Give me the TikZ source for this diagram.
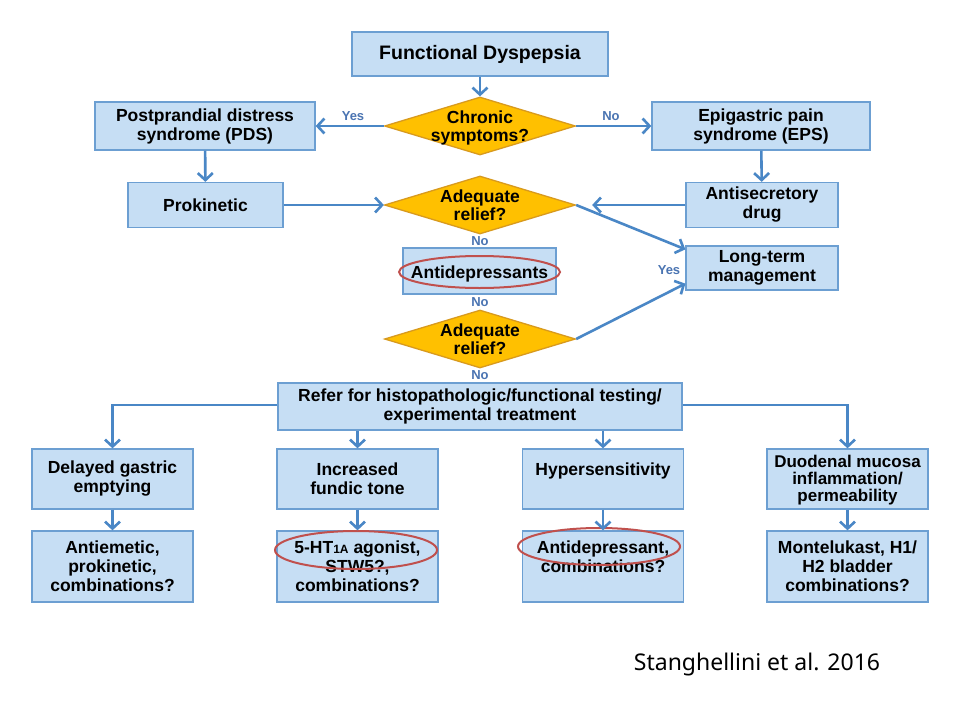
\documentclass[tikz,border=0pt]{standalone}
\usepackage{fontspec}
\setmainfont{Liberation Sans}
\newfontfamily\citefont{Noto Sans}
\usetikzlibrary{arrows.meta,shapes.geometric,calc}
\definecolor{boxfill}{HTML}{C6DEF4}
\definecolor{boxline}{HTML}{6C9FD2}
\definecolor{arrowc}{HTML}{4A87C6}
\definecolor{diafill}{HTML}{FFC000}
\definecolor{dialine}{HTML}{D89A1E}
\definecolor{lblc}{HTML}{4A74B2}
\definecolor{ringc}{HTML}{C0504D}
\newcommand{\ztext}[1]{\makebox[0pt]{\raisebox{-7.4pt}[0pt][0pt]{\begin{tabular}{@{}c@{}}#1\end{tabular}}}}
\begin{document}
\begin{tikzpicture}[x=1pt,y=-1pt,
 box/.style={draw=boxline, fill=boxfill, line width=1.3pt, rectangle, inner sep=0pt, align=center, font=\bfseries\fontsize{17.5}{19}\selectfont},
 dia/.style={draw=dialine, fill=diafill, line width=1.3pt, diamond, aspect=3.29, inner sep=0pt, minimum width=191pt, minimum height=58pt, font=\bfseries\fontsize{17.5}{18}\selectfont},
 arr/.style={draw=arrowc, line width=2.6pt, -{Straight Barb[length=7pt,width=15pt]}},
 lbl/.style={text=lblc, font=\bfseries\fontsize{13}{14}\selectfont, inner sep=0pt},
 ring/.style={draw=ringc, line width=2pt, ellipse, inner sep=0pt},
]
\fill[white] (0,0) rectangle (960,720);
\useasboundingbox (0,0) rectangle (960,720);

% top part
\node[box, minimum width=256pt, minimum height=44pt, font=\bfseries\fontsize{19.5}{21}\selectfont] (fd) at (480,54) {Functional Dyspepsia};
\node[dia] (chr) at (480,126) {\ztext{Chronic\\symptoms?}};
\node[box, minimum width=220pt, minimum height=48pt] (pds) at (205,126) {Postprandial distress\\syndrome (PDS)};
\node[box, minimum width=218pt, minimum height=48pt] (eps) at (761,126) {Epigastric pain\\syndrome (EPS)};
\node[box, minimum width=155pt, minimum height=45pt] (prok) at (205.5,205) {Prokinetic};
\node[box, minimum width=152pt, minimum height=45pt] (anti) at (762,205) {Antisecretory\\drug};
\node[dia] (adq1) at (480,205) {\ztext{Adequate\\relief?}};
\node[box, minimum width=153pt, minimum height=46pt] (adep) at (479.5,271) {\raisebox{-7pt}[0pt][0pt]{Antidepressants}};
\node[ring, minimum width=161pt, minimum height=32pt] (r1) at (479.5,272) {};
\node[dia] (adq2) at (480,339) {\ztext{Adequate\\relief?}};
\node[box, minimum width=152pt, minimum height=44pt] (ltm) at (762,268) {Long-term\\management};
\node[box, minimum width=404pt, minimum height=47pt] (ref) at (480,406.5) {Refer for histopathologic/functional testing/\\experimental treatment};

% bottom rows
\node[box, minimum width=161pt, minimum height=60pt] (del) at (112.5,479) {Delayed gastric\\emptying};
\node[box, minimum width=161pt, minimum height=60pt] (inc) at (357.5,479) {Increased\\fundic tone};
\node[box, minimum width=161pt, minimum height=60pt] (hyp) at (603,479) {Hypersensitivity\\\mbox{}};
\node[box, minimum width=161pt, minimum height=60pt, font=\bfseries\fontsize{17}{17}\selectfont] (duo) at (847.5,479) {\raisebox{-6.25pt}[0pt][0pt]{\begin{tabular}{@{}c@{}}Duodenal mucosa\\inflammation/\\permeability\end{tabular}}};
\node[box, minimum width=161pt, minimum height=71pt] (t1) at (112.5,566.5) {Antiemetic,\\prokinetic,\\combinations?};
\node[box, minimum width=161pt, minimum height=71pt] (t2) at (357.5,566.5) {5-HT{\fontsize{12}{12}\selectfont 1A} agonist,\\STW5?,\\combinations?};
\node[box, minimum width=161pt, minimum height=71pt] (t3) at (603,566.5) {Antidepressant,\\combinations?\\\mbox{}};
\node[box, minimum width=161pt, minimum height=71pt] (t4) at (847.5,566.5) {Montelukast, H1/\\H2 bladder\\combinations?};
\node[ring, minimum width=162pt, minimum height=38pt] (r2) at (356,550) {};
\node[ring, minimum width=162pt, minimum height=37pt] (r3) at (599,546.5) {};

% labels
\node[lbl] (yes1) at (353,116.5) {Yes};
\node[lbl] (no1) at (611,116.5) {No};
\node[lbl] (no2) at (480,241) {No};
\node[lbl] (no3) at (480,302) {No};
\node[lbl] (no4) at (480,375.5) {No};
\node[lbl] (yes2) at (669,270) {Yes};

% connectors
\draw[arr] (fd) -- (chr);
\draw[arr] (chr.west) -- (pds.east);
\draw[arr] (chr.east) -- (eps.west);
\draw[arr] (pds) -- (prok);
\draw[arr] (eps) -- (anti);
\draw[arr] (prok) -- (adq1.west);
\draw[arr, shorten >=16pt] (anti.west) -- (adq1.east);
\draw[arr] (adq1.east) -- ([yshift=-4pt]ltm.north west);
\draw[arr] (adq2.east) -- ([yshift=7pt]ltm.south west);
\draw[arr] ([yshift=1.5pt]ref.west) -| (del.north);
\draw[arr] ([yshift=1.5pt]ref.east) -| (duo.north);
\draw[arr] (ref.south -| inc.north) -- (inc.north);
\draw[arr] (ref.south -| hyp.north) -- (hyp.north);
\draw[arr] (del) -- (t1);
\draw[arr] (inc) -- (t2);
\draw[arr] (hyp) -- (t3);
\draw[arr] (duo) -- (t4);

\node[font=\citefont\fontsize{23}{26}\selectfont, inner sep=0pt] (cite) at (757,665) {Stanghellini et al. 2016};
\end{tikzpicture}
\end{document}
